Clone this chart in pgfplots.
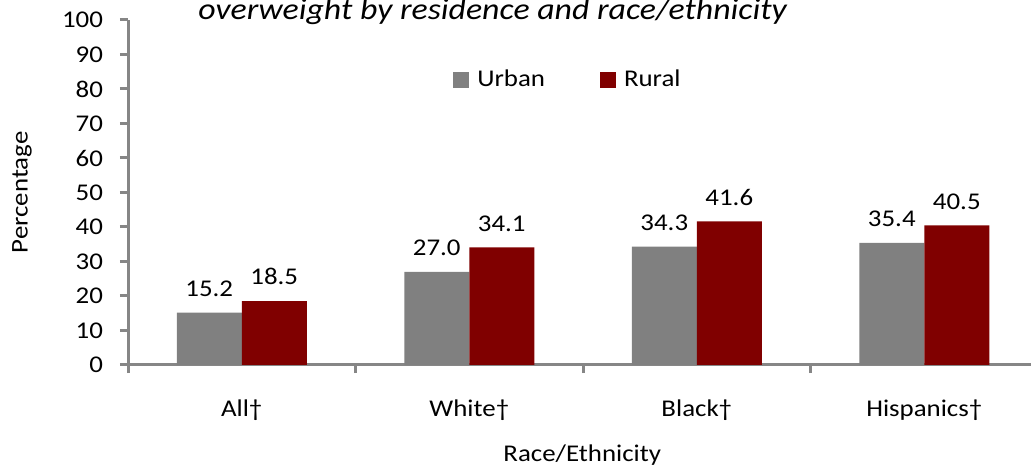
\documentclass[border=0pt]{standalone}
\usepackage{fontspec}
\setmainfont{Carlito}[FakeStretch=1.12]
\usepackage{pgfplots}
\pgfplotsset{compat=1.18}
\definecolor{urb}{HTML}{808080}
\definecolor{rur}{HTML}{800000}
\definecolor{axg}{HTML}{868686}
\begin{document}
\begin{tikzpicture}
\useasboundingbox (0,0) rectangle (515.5pt,235pt);
\node[anchor=base, font=\fontsize{15.1}{17}\selectfont\itshape] at (246.25pt,225pt) {overweight by residence and race/ethnicity};
\begin{axis}[
  at={(64pt,52.5pt)}, anchor=south west,
  scale only axis, width=451.5pt, height=172.5pt,
  /pgf/number format/assume math mode=true,
  font=\fontsize{12}{14}\selectfont,
  ybar=0pt, bar width=32.5pt,
  xmin=-0.5, xmax=3.469, ymin=0, ymax=100,
  ytick={0,10,...,100},
  axis x line=bottom, axis y line=left,
  axis line style={-, draw=axg, line width=1.5pt},
  tick align=outside,
  major tick length=4pt,
  tick style={draw=axg, line width=1.5pt},
  xtick={-0.5,0.5,1.5,2.5}, xticklabels={},
  extra x ticks={0,1,2,3},
  extra x tick labels={All†,White†,Black†,Hispanics†},
  extra x tick style={major tick length=0pt, tick label style={yshift=-14pt}},
  yticklabel style={xshift=-5pt},
  xlabel={Race/Ethnicity},
  xlabel style={at={(axis description cs:0.503,0)}, anchor=base, yshift=-48.5pt},
  ylabel={Percentage},
  ylabel style={at={(axis description cs:-0.1174,0.5)}, anchor=center},
  legend style={at={(0.4905,0.826)}, anchor=center, draw=none, fill=none,
    legend columns=2, /tikz/every even column/.append style={column sep=23.5pt},
    nodes={inner xsep=4pt},
    font=\fontsize{12}{14}\selectfont},
  legend image code/.code={\fill[#1,draw=none] (0pt,-4pt) rectangle (8pt,4pt);},
  nodes near coords={\pgfmathprintnumber[fixed,fixed zerofill,precision=1]{\pgfplotspointmeta}},
  nodes near coords style={font=\fontsize{12}{14}\selectfont, yshift=4.5pt, text=black},
  clip=false,
]
\addplot[fill=urb, draw=none] coordinates {(0,15.2) (1,27.0) (2,34.3) (3,35.4)};
\addplot[fill=rur, draw=none] coordinates {(0,18.5) (1,34.1) (2,41.6) (3,40.5)};
\legend{Urban,Rural}
\end{axis}
\end{tikzpicture}
\end{document}
